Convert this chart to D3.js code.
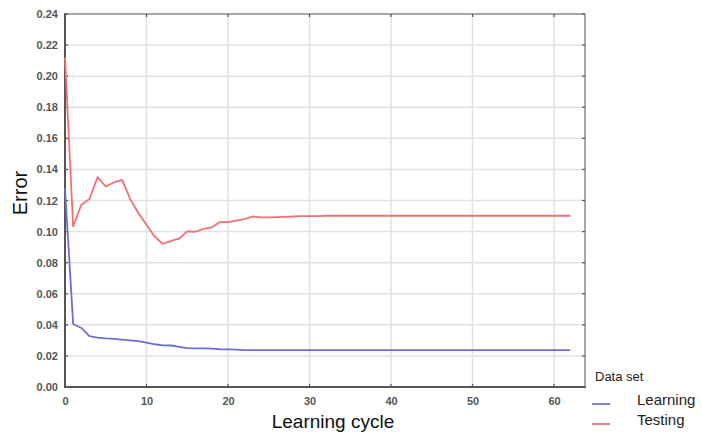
<!DOCTYPE html>
<html>
<head>
<meta charset="utf-8">
<script src="https://cdn.jsdelivr.net/npm/d3@7"></script>
<style>
  html, body { margin: 0; padding: 0; background: #fff; }
  svg { display: block; font-family: Arial, "Liberation Sans", sans-serif; }
</style>
</head>
<body>
<svg id="chart" width="702" height="433"></svg>
<script>
// Learning cycles 0..62
const cycles = d3.range(0, 63);

// Network error on the learning set per cycle
const learningError = [
  0.128, 0.0405, 0.0380, 0.0328, 0.0318, 0.0313, 0.0310, 0.0305, 0.0300, 0.0295,
  0.0285, 0.0275, 0.0268, 0.0267, 0.0258, 0.0250, 0.0249, 0.0248, 0.0247, 0.0243,
  0.0242, 0.0240, 0.0237, 0.0237, 0.0237, 0.0237, 0.0237, 0.0237, 0.0237, 0.0237,
  0.0237, 0.0237, 0.0237, 0.0237, 0.0237, 0.0237, 0.0237, 0.0237, 0.0237, 0.0237,
  0.0237, 0.0237, 0.0237, 0.0237, 0.0237, 0.0237, 0.0237, 0.0237, 0.0237, 0.0237,
  0.0237, 0.0237, 0.0237, 0.0237, 0.0237, 0.0237, 0.0237, 0.0237, 0.0237, 0.0237,
  0.0237, 0.0237, 0.0237
];

// Network error on the testing set per cycle
const testingError = [
  0.212, 0.1033, 0.1173, 0.1210, 0.1350, 0.1290, 0.1316, 0.1333, 0.1210, 0.1120,
  0.1044, 0.0969, 0.0920, 0.0940, 0.0954, 0.1001, 0.0999, 0.1018, 0.1027, 0.1061,
  0.1061, 0.1070, 0.1080, 0.1097, 0.1092, 0.1092, 0.1093, 0.1095, 0.1097, 0.1099,
  0.1100, 0.1100, 0.1102, 0.1102, 0.1102, 0.1102, 0.1102, 0.1102, 0.1102, 0.1102,
  0.1102, 0.1102, 0.1102, 0.1102, 0.1102, 0.1102, 0.1102, 0.1102, 0.1102, 0.1102,
  0.1102, 0.1102, 0.1102, 0.1102, 0.1102, 0.1102, 0.1102, 0.1102, 0.1102, 0.1102,
  0.1102, 0.1102, 0.1102
];

const xTicks = [0, 10, 20, 30, 40, 50, 60];
const yTicks = [0, 0.02, 0.04, 0.06, 0.08, 0.10, 0.12, 0.14, 0.16, 0.18, 0.20, 0.22, 0.24];

const seriesNames = ["Learning", "Testing"];
const seriesColors = ["#6e6ed6", "#f07078"];

const svg = d3.select("#chart");
const plot = { left: 65, right: 585, top: 14, bottom: 387 };

const x = d3.scaleLinear().domain([0, 63.8]).range([plot.left, plot.right]);
const y = d3.scaleLinear().domain([0, 0.24]).range([plot.bottom, plot.top]);

// grid
const grid = svg.append("g");
grid.selectAll(".gx").data(xTicks.filter(d => d > 0)).join("line")
  .attr("x1", d => x(d)).attr("x2", d => x(d))
  .attr("y1", plot.top).attr("y2", plot.bottom)
  .attr("stroke", "#e2e2e2").attr("stroke-width", 1.5);
grid.selectAll(".gy").data(yTicks.filter(d => d > 0 && d < 0.24)).join("line")
  .attr("x1", plot.left).attr("x2", plot.right)
  .attr("y1", d => y(d)).attr("y2", d => y(d))
  .attr("stroke", "#e2e2e2").attr("stroke-width", 1.5);

// axes
const xAxis = d3.axisBottom(x).tickValues(xTicks).tickSize(0).tickPadding(10).tickFormat(d3.format("d"));
const yAxis = d3.axisLeft(y).tickValues(yTicks).tickSize(0).tickPadding(7).tickFormat(d3.format(".2f"));

const gx = svg.append("g").attr("transform", `translate(0,${plot.bottom})`).call(xAxis);
const gy = svg.append("g").attr("transform", `translate(${plot.left},0)`).call(yAxis);
[gx, gy].forEach(g => {
  g.select(".domain").remove();
  g.selectAll("text").attr("fill", "#555").attr("font-size", 11).attr("font-weight", "bold")
    .attr("font-family", "Arial, 'Liberation Sans', sans-serif");
});

// frame
svg.append("line").attr("x1", plot.left).attr("x2", plot.right).attr("y1", plot.top).attr("y2", plot.top)
  .attr("stroke", "#8a8a8a").attr("stroke-width", 1.5);
svg.append("line").attr("x1", plot.right).attr("x2", plot.right).attr("y1", plot.top).attr("y2", plot.bottom)
  .attr("stroke", "#8a8a8a").attr("stroke-width", 1.5);
svg.append("line").attr("x1", plot.left).attr("x2", plot.left).attr("y1", plot.top - 0.75).attr("y2", plot.bottom + 1)
  .attr("stroke", "#555").attr("stroke-width", 2);
svg.append("line").attr("x1", plot.left - 1).attr("x2", plot.right + 0.75).attr("y1", plot.bottom).attr("y2", plot.bottom)
  .attr("stroke", "#555").attr("stroke-width", 2);

// small inner tick marks on all sides
const tk = svg.append("g").attr("stroke", "#555").attr("stroke-width", 1.2);
xTicks.forEach(d => {
  tk.append("line").attr("x1", x(d)).attr("x2", x(d)).attr("y1", plot.top).attr("y2", plot.top + 3);
  tk.append("line").attr("x1", x(d)).attr("x2", x(d)).attr("y1", plot.bottom).attr("y2", plot.bottom - 3);
});
yTicks.forEach(d => {
  tk.append("line").attr("x1", plot.left).attr("x2", plot.left + 3).attr("y1", y(d)).attr("y2", y(d));
  tk.append("line").attr("x1", plot.right).attr("x2", plot.right - 3).attr("y1", y(d)).attr("y2", y(d));
});

// series
const line = d3.line().x((d, i) => x(cycles[i])).y(d => y(d));
[learningError, testingError].forEach((vals, k) => {
  svg.append("path").datum(vals)
    .attr("d", line)
    .attr("fill", "none")
    .attr("stroke", seriesColors[k])
    .attr("stroke-width", 1.8)
    .attr("stroke-linejoin", "round");
});

// axis titles
svg.append("text").attr("x", 333).attr("y", 428).attr("text-anchor", "middle")
  .attr("font-size", 19).attr("fill", "#111").text("Learning cycle");
svg.append("text").attr("transform", "translate(27,193) rotate(-90)").attr("text-anchor", "middle")
  .attr("font-size", 20).attr("fill", "#111").text("Error");

// legend
svg.append("text").attr("x", 595).attr("y", 381).attr("font-size", 13).attr("fill", "#222").text("Data set");
seriesNames.forEach((name, i) => {
  const yy = 404 + i * 20;
  svg.append("line").attr("x1", 592).attr("x2", 610).attr("y1", yy).attr("y2", yy)
    .attr("stroke", seriesColors[i]).attr("stroke-width", 1.8);
  svg.append("text").attr("x", 637).attr("y", yy + 1).attr("font-size", 15).attr("fill", "#222").text(name);
});
</script>
</body>
</html>
